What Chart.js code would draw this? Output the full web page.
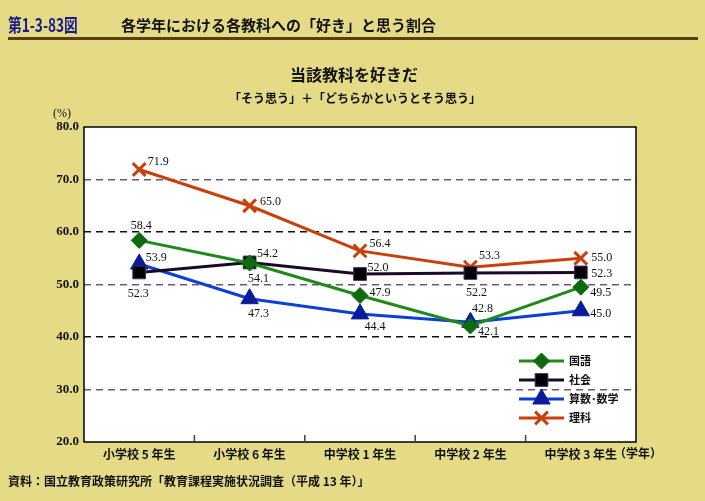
<!DOCTYPE html>
<html>
<head>
<meta charset="utf-8">
<script src="https://cdn.jsdelivr.net/npm/chart.js@4.4.1/dist/chart.umd.min.js"></script>
<style>
  html, body { margin: 0; padding: 0; background: #e5db87; }
  #wrap { width: 705px; height: 501px; position: relative; }
</style>
</head>
<body>
<div id="wrap"><canvas id="myChart" width="705" height="501"></canvas></div>
<script>
// data
const grades = ["小学校 5 年生", "小学校 6 年生", "中学校 1 年生", "中学校 2 年生", "中学校 3 年生"];
const kokugo = [58.4, 54.1, 47.9, 42.1, 49.5];
const shakai = [52.3, 54.2, 52.0, 52.2, 52.3];
const sansu = [53.9, 47.3, 44.4, 42.8, 45.0];
const rika = [71.9, 65.0, 56.4, 53.3, 55.0];
const seriesNames = ["国語", "社会", "算数･数学", "理科"];
const yTicks = [20, 30, 40, 50, 60, 70, 80];

// label offsets (px) for the value labels, per series
const labelOffsets = [
  [[2, -15], [9, 16], [20, -3], [18, 6], [20, 6]],
  [[-1, 21], [18, -9], [18, -6], [6, 20], [21, 1]],
  [[17, -6], [9, 15], [15, 13], [12, -13], [20, 3]],
  [[19, -8], [21, -4], [20, -7], [19, -11], [21, 0]]
];

const JP = "'Noto Sans CJK JP', sans-serif";
const NUM = "'Liberation Serif', serif";

const styles = [
  { line: "#1f8a17", fill: "#0d6b0d", point: "rectRot", r: 8 },
  { line: "#1a0a26", fill: "#000000", point: "rect", r: 9, edge: "#4a2a6a" },
  { line: "#0b3fd6", fill: "#0a1c9c", point: "triangle", r: 10 },
  { line: "#c8410a", fill: "#c8410a", point: "crossRot", r: 9 }
];

const allData = [kokugo, shakai, sansu, rika];

const datasets = allData.map((vals, i) => ({
  label: seriesNames[i],
  data: vals,
  borderColor: styles[i].line,
  borderWidth: 3,
  pointStyle: styles[i].point,
  pointRadius: styles[i].r,
  pointHoverRadius: styles[i].r,
  pointBackgroundColor: styles[i].fill,
  pointBorderColor: styles[i].point === "crossRot" ? styles[i].fill : (styles[i].edge || styles[i].fill),
  pointBorderWidth: styles[i].point === "crossRot" ? 3 : 1,
  tension: 0,
  fill: false
}));

function drawMarker(ctx, ds, x, y) {
  ctx.save();
  ctx.fillStyle = ds.pointBackgroundColor;
  ctx.strokeStyle = ds.pointBorderColor;
  ctx.lineWidth = ds.pointBorderWidth;
  Chart.helpers.drawPoint(ctx, {
    pointStyle: ds.pointStyle,
    radius: ds.pointRadius,
    borderWidth: ds.pointBorderWidth,
    rotation: 0
  }, x, y);
  ctx.restore();
}

// titles, frame, category ticks, value labels, legend
const decorations = {
  id: "decorations",
  beforeDraw(chart) {
    const ctx = chart.ctx;
    const a = chart.chartArea;
    ctx.save();
    ctx.fillStyle = "#ffffff";
    ctx.fillRect(a.left, a.top, a.right - a.left, a.bottom - a.top);
    ctx.restore();
  },
  afterDraw(chart) {
    const ctx = chart.ctx;
    const a = chart.chartArea;
    const xs = chart.scales.x;
    ctx.save();

    // header
    ctx.textBaseline = "middle";
    ctx.textAlign = "left";
    ctx.save();
    ctx.translate(8, 25);
    ctx.scale(0.76, 1);
    ctx.fillStyle = "#1a1a8c";
    ctx.font = "bold 18px " + JP;
    ctx.fillText("第1-3-83図", 0, 0);
    ctx.restore();
    ctx.fillStyle = "#111111";
    ctx.font = "bold 15px " + JP;
    ctx.fillText("各学年における各教科への「好き」と思う割合", 121, 25);
    ctx.fillStyle = "#5a3f14";
    ctx.fillRect(8, 37, 690, 3);

    // subtitle
    ctx.textAlign = "center";
    ctx.fillStyle = "#111111";
    ctx.font = "bold 16px " + JP;
    ctx.fillText("当該教科を好きだ", 354, 75);
    ctx.font = "bold 12px " + JP;
    ctx.fillText("「そう思う」＋「どちらかというとそう思う」", 355, 98);

    ctx.font = "12px " + NUM;
    ctx.fillText("(%)", 62, 114);

    // footer
    ctx.textAlign = "left";
    ctx.font = "bold 12px " + JP;
    ctx.fillText("資料：国立教育政策研究所「教育課程実施状況調査（平成 13 年）」", 8, 481);

    // axis unit on the right
    ctx.font = "bold 12px " + JP;
    ctx.fillText("（学年）", 614, 453);

    // frame
    ctx.strokeStyle = "#000000";
    ctx.lineWidth = 1.5;
    ctx.strokeRect(a.left, a.top, a.right - a.left, a.bottom - a.top);

    // category boundary ticks
    ctx.strokeStyle = "#4a3a55";
    ctx.lineWidth = 1.5;
    for (let i = 0; i < grades.length - 1; i++) {
      const x = (xs.getPixelForValue(i) + xs.getPixelForValue(i + 1)) / 2;
      ctx.beginPath();
      ctx.moveTo(x, a.bottom);
      ctx.lineTo(x, a.bottom - 7);
      ctx.stroke();
    }

    // value labels
    ctx.fillStyle = "#111111";
    ctx.font = "12px " + NUM;
    ctx.textAlign = "center";
    chart.data.datasets.forEach((ds, i) => {
      const meta = chart.getDatasetMeta(i);
      meta.data.forEach((pt, j) => {
        const off = labelOffsets[i][j];
        ctx.fillText(ds.data[j].toFixed(1), pt.x + off[0], pt.y + off[1]);
      });
    });

    // legend inside plot
    const lx = 519, lw = 45;
    const rows = [361, 380, 399, 418];
    chart.data.datasets.forEach((ds, i) => {
      const y = rows[i];
      ctx.strokeStyle = ds.borderColor;
      ctx.lineWidth = 3;
      ctx.beginPath();
      ctx.moveTo(lx, y);
      ctx.lineTo(lx + lw, y);
      ctx.stroke();
      drawMarker(ctx, ds, lx + lw / 2, y);
      ctx.fillStyle = "#111111";
      ctx.textAlign = "left";
      ctx.font = "bold 11px " + JP;
      ctx.fillText(ds.label, lx + lw + 5, y);
    });

    ctx.restore();
  }
};

new Chart(document.getElementById("myChart"), {
  type: "line",
  data: { labels: grades, datasets: datasets },
  options: {
    responsive: false,
    animation: false,
    layout: { padding: { left: 0, right: 69, top: 127, bottom: 0 } },
    plugins: {
      legend: { display: false },
      tooltip: { enabled: false }
    },
    scales: {
      x: {
        offset: true,
        grid: { display: false, drawTicks: false },
        border: { display: false },
        ticks: {
          padding: 5,
          color: "#111111",
          font: { family: JP, size: 12, weight: "bold" },
          maxRotation: 0,
          autoSkip: false
        },
        afterFit(scale) { scale.height = 59; }
      },
      y: {
        min: 20,
        max: 80,
        afterBuildTicks(scale) { scale.ticks = yTicks.map(v => ({ value: v })); },
        grid: {
          drawTicks: false,
          lineWidth: 1.5,
          color(c) {
            const v = c.tick && c.tick.value;
            if (v === 20 || v === 80) return "rgba(0,0,0,0)";
            return (v === 60 || v === 40) ? "#111111" : "#6a5878";
          }
        },
        border: { display: false, dash: [7, 5] },
        ticks: {
          padding: 5,
          color: "#111111",
          font: { family: NUM, size: 13, weight: "bold" },
          callback: v => v.toFixed(1)
        },
        afterFit(scale) { scale.width = 84; }
      }
    }
  },
  plugins: [decorations]
});
</script>
</body>
</html>
